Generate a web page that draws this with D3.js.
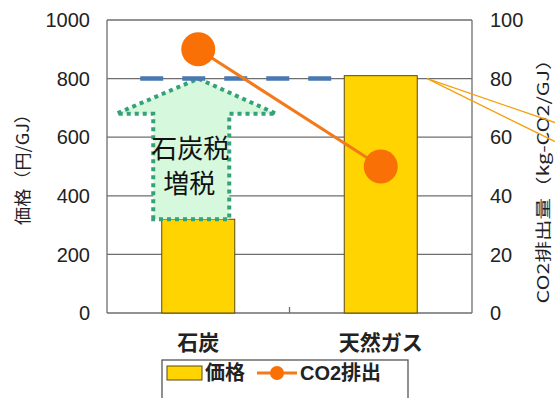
<!DOCTYPE html>
<html>
<head>
<meta charset="utf-8">
<script src="https://cdn.jsdelivr.net/npm/d3@7"></script>
<style>
  body { margin: 0; background: #fff; }
  svg { display: block; }
  text { font-family: "Liberation Sans", "Noto Sans CJK JP", sans-serif; fill: #222; }
</style>
</head>
<body>
<svg id="chart" width="555" height="398"></svg>
<script>
// data
const categories = ["石炭", "天然ガス"];
const prices = [320, 810];          // 価格 (円/GJ)
const co2 = [90, 50];               // CO2排出量 (kg-CO2/GJ)
const leftTicks = [0, 200, 400, 600, 800, 1000];
const rightTicks = [0, 20, 40, 60, 80, 100];
const taxTarget = 800;              // 増税後の水準

const width = 555, height = 398;
const margin = {top: 20, right: 83, bottom: 85, left: 107};

const svg = d3.select("#chart");

const x = d3.scaleBand()
    .domain(categories)
    .range([margin.left, width - margin.right])
    .paddingInner(0.6).paddingOuter(0.3);

const yL = d3.scaleLinear().domain([0, 1000]).range([height - margin.bottom, margin.top]);
const yR = d3.scaleLinear().domain([0, 100]).range([height - margin.bottom, margin.top]);

const x0 = margin.left, x1 = width - margin.right;
const cx = c => x(c) + x.bandwidth() / 2;

// grid
svg.append("g").selectAll("line")
    .data(leftTicks)
    .join("line")
    .attr("x1", x0).attr("x2", x1)
    .attr("y1", d => yL(d)).attr("y2", d => yL(d))
    .attr("stroke", "#6e6e6e").attr("stroke-width", 1.3);

// frame sides
svg.append("line").attr("x1", x0).attr("x2", x0).attr("y1", yL(1000)).attr("y2", yL(0))
    .attr("stroke", "#6e6e6e").attr("stroke-width", 1.3);
svg.append("line").attr("x1", x1).attr("x2", x1).attr("y1", yL(1000)).attr("y2", yL(0))
    .attr("stroke", "#6e6e6e").attr("stroke-width", 1.3);
// category separator tick
const midX = (x0 + x1) / 2;
svg.append("line").attr("x1", midX).attr("x2", midX).attr("y1", yL(0) - 6).attr("y2", yL(0))
    .attr("stroke", "#6e6e6e").attr("stroke-width", 1.3);

// bars
svg.append("g").selectAll("rect")
    .data(categories)
    .join("rect")
    .attr("x", d => x(d))
    .attr("width", x.bandwidth())
    .attr("y", (d, i) => yL(prices[i]))
    .attr("height", (d, i) => yL(0) - yL(prices[i]))
    .attr("fill", "#ffd400")
    .attr("stroke", "#5b4a10").attr("stroke-width", 1);

// green dotted arrow (coal tax increase)
const ac = cx(categories[0]);
const arrowPts = [
  [ac - 45, yL(prices[0])],
  [ac - 45, yL(680)],
  [ac - 82, yL(680)],
  [ac, yL(taxTarget)],
  [ac + 78, yL(680)],
  [ac + 31, yL(680)],
  [ac + 31, yL(prices[0])]
];
svg.append("polygon")
    .attr("points", arrowPts.map(p => p.join(",")).join(" "))
    .attr("fill", "#d6f8dc")
    .attr("stroke", "#35a178").attr("stroke-width", 4)
    .attr("stroke-dasharray", "4,4");

const tax = svg.append("text").attr("text-anchor", "middle")
    .style("font-family", "'Noto Sans CJK JP', sans-serif")
    .style("font-size", "26px").style("fill", "#111");
tax.append("tspan").attr("x", ac - 8).attr("y", yL(560) + 9).text("石炭税");
tax.append("tspan").attr("x", ac - 9).attr("y", yL(440) + 9).text("増税");

// blue dashed target line
svg.append("line")
    .attr("x1", ac - 58).attr("x2", cx(categories[1]) - 34)
    .attr("y1", yL(taxTarget)).attr("y2", yL(taxTarget))
    .attr("stroke", "#4a78b0").attr("stroke-width", 4.5)
    .attr("stroke-dasharray", "23,19");

// CO2 line + markers
const line = d3.line().x((d, i) => cx(categories[i])).y(d => yR(d));
svg.append("path").datum(co2)
    .attr("d", line).attr("fill", "none")
    .attr("stroke", "#f27a1a").attr("stroke-width", 3);
svg.append("g").selectAll("circle")
    .data(co2)
    .join("circle")
    .attr("cx", (d, i) => cx(categories[i]))
    .attr("cy", d => yR(d))
    .attr("r", 17)
    .attr("fill", "#f97106");

// left ticks
svg.append("g").selectAll("text")
    .data(leftTicks)
    .join("text")
    .attr("x", x0 - 17).attr("y", d => yL(d))
    .attr("dy", "0.36em").attr("text-anchor", "end")
    .style("font-size", "20px")
    .text(d => d);

// right ticks
svg.append("g").selectAll("text")
    .data(rightTicks)
    .join("text")
    .attr("x", x1 + 18).attr("y", d => yR(d))
    .attr("dy", "0.36em").attr("text-anchor", "start")
    .style("font-size", "20px")
    .text(d => d);

// category labels
svg.append("g").selectAll("text")
    .data(categories)
    .join("text")
    .attr("x", d => cx(d)).attr("y", yL(0) + 29)
    .attr("dy", "0.36em")
    .attr("text-anchor", "middle")
    .style("font-size", "21px").style("font-weight", "bold")
    .text(d => d);

// axis titles
svg.append("text")
    .attr("transform", "translate(23,165) rotate(-90)")
    .attr("text-anchor", "middle").attr("dy", "0.36em")
    .attr("textLength", 120).attr("lengthAdjust", "spacingAndGlyphs")
    .style("font-family", "'Noto Sans CJK JP', sans-serif")
    .style("font-size", "17px")
    .text("価格（円/GJ）");
svg.append("text")
    .attr("transform", "translate(543,176) rotate(-90)")
    .attr("text-anchor", "middle").attr("dy", "0.36em")
    .attr("textLength", 255).attr("lengthAdjust", "spacingAndGlyphs")
    .style("font-family", "'Noto Sans CJK JP', sans-serif")
    .style("font-size", "16px")
    .text("CO2排出量（kg-CO2/GJ）");

// orange leader lines
const lx = cx(categories[1]) + x.bandwidth() / 2 + 10;
svg.append("g").selectAll("line")
    .data([yR(65), yR(58.5)])
    .join("line")
    .attr("x1", lx).attr("y1", yL(taxTarget))
    .attr("x2", width).attr("y2", d => d)
    .attr("stroke", "#f5a00f").attr("stroke-width", 1.3);

// legend
const lg = svg.append("g");
lg.append("rect").attr("x", 162).attr("y", 360).attr("width", 246).attr("height", 45)
    .attr("fill", "#fff").attr("stroke", "#555").attr("stroke-width", 1.3);
lg.append("rect").attr("x", 167).attr("y", 366).attr("width", 35).attr("height", 14)
    .attr("fill", "#ffd400").attr("stroke", "#5b4a10").attr("stroke-width", 1);
lg.append("text").attr("x", 205).attr("y", 373).attr("dy", "0.36em")
    .style("font-size", "20px").style("font-weight", "bold").text("価格");
lg.append("line").attr("x1", 257).attr("x2", 297).attr("y1", 373).attr("y2", 373)
    .attr("stroke", "#f27a1a").attr("stroke-width", 3);
lg.append("circle").attr("cx", 277).attr("cy", 373).attr("r", 7).attr("fill", "#f97106");
lg.append("text").attr("x", 300).attr("y", 373).attr("dy", "0.36em")
    .style("font-size", "20px").style("font-weight", "bold").text("CO2排出");
</script>
</body>
</html>
